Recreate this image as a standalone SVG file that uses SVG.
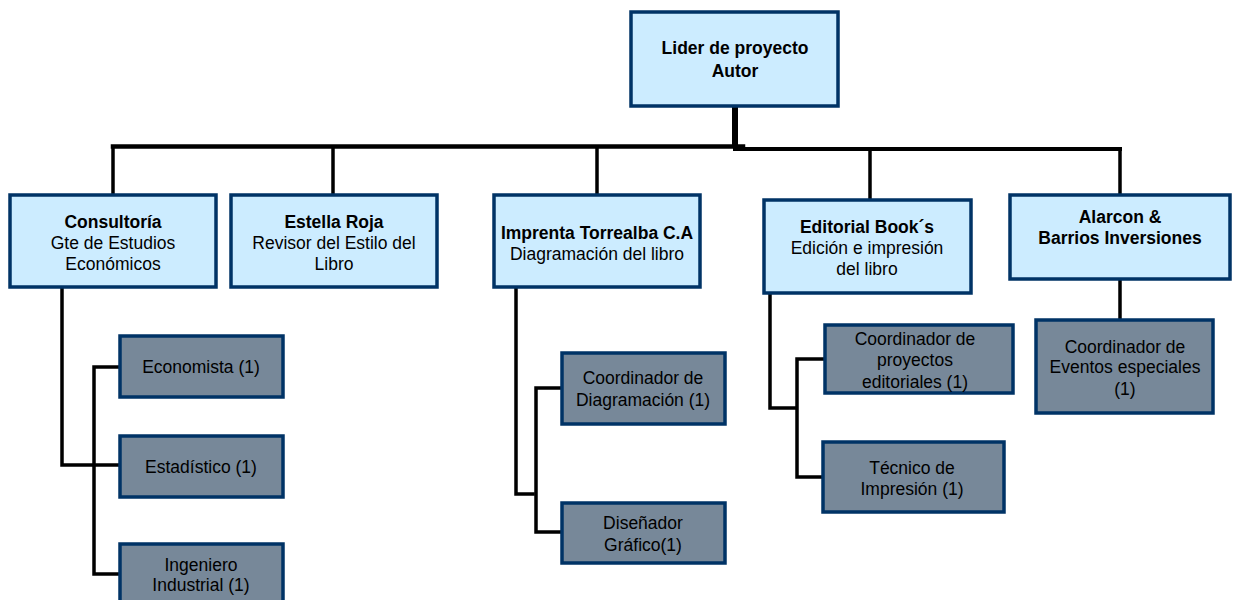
<svg xmlns="http://www.w3.org/2000/svg" width="1235" height="600" viewBox="0 0 1235 600">
<style>
.lb{fill:#CCECFF;stroke:#003366;stroke-width:3.5}
.gr{fill:#778899;stroke:#003366;stroke-width:3.5}
text{font-family:"Liberation Sans",Arial,sans-serif;font-size:17.5px;fill:#000;text-anchor:middle}
.b{font-weight:bold}
.c{fill:none;stroke:#000;stroke-width:3.5;stroke-linecap:square}
</style>
<rect width="1235" height="600" fill="#fff"/>
<g id="connectors">
<line class="c" x1="735" y1="107" x2="735" y2="147" style="stroke-width:6;stroke-linecap:butt"/>
<line class="c" x1="113" y1="146.5" x2="743" y2="146.5" style="stroke-width:4.5"/>
<line class="c" x1="735" y1="149" x2="1120" y2="149" style="stroke-width:4"/>
<line class="c" x1="113" y1="147" x2="113" y2="193"/>
<line class="c" x1="333" y1="147" x2="333" y2="193"/>
<line class="c" x1="597" y1="147" x2="597" y2="193"/>
<line class="c" x1="870" y1="149" x2="870" y2="198"/>
<line class="c" x1="1120" y1="149" x2="1120" y2="193"/>
<polyline class="c" points="62,289 62,465 120,465"/>
<polyline class="c" points="120,367 94,367 94,574 120,574"/>
<polyline class="c" points="516,289 516,494 533,494"/>
<polyline class="c" points="562,388 536,388 536,532 562,532"/>
<polyline class="c" points="770,295 770,408 795,408"/>
<polyline class="c" points="825,359 797,359 797,477 823,477"/>
<line class="c" x1="1120" y1="281" x2="1120" y2="318"/>
</g>
<g id="lider">
<rect class="lb" x="631" y="12" width="207" height="94"/>
<text class="b" x="735" y="54">Lider de proyecto</text>
<text class="b" x="735" y="77">Autor</text>
</g>
<g id="consultoria">
<rect class="lb" x="10" y="195" width="206" height="92"/>
<text class="b" x="113" y="228">Consultoría</text>
<text x="113" y="249">Gte de Estudios</text>
<text x="113" y="270">Económicos</text>
</g>
<g id="estella">
<rect class="lb" x="231" y="195" width="206" height="92"/>
<text class="b" x="334" y="228">Estella Roja</text>
<text x="334" y="249">Revisor del Estilo del</text>
<text x="334" y="270">Libro</text>
</g>
<g id="imprenta">
<rect class="lb" x="494" y="195" width="206" height="92"/>
<text class="b" x="597" y="239">Imprenta Torrealba C.A</text>
<text x="597" y="260">Diagramación del libro</text>
</g>
<g id="editorial">
<rect class="lb" x="764" y="200" width="207" height="93"/>
<text class="b" x="867" y="233">Editorial Book´s</text>
<text x="867" y="254">Edición e impresión</text>
<text x="867" y="275">del libro</text>
</g>
<g id="alarcon">
<rect class="lb" x="1010" y="195" width="220" height="84"/>
<text class="b" x="1120" y="223">Alarcon &amp;</text>
<text class="b" x="1120" y="244">Barrios Inversiones</text>
</g>
<g id="economista">
<rect class="gr" x="120" y="336" width="163" height="61"/>
<text x="201" y="373">Economista (1)</text>
</g>
<g id="estadistico">
<rect class="gr" x="120" y="436" width="163" height="61"/>
<text x="201" y="473">Estadístico (1)</text>
</g>
<g id="ingeniero">
<rect class="gr" x="120" y="544" width="163" height="70"/>
<text x="201" y="571">Ingeniero</text>
<text x="201" y="591">Industrial (1)</text>
</g>
<g id="coord-diagramacion">
<rect class="gr" x="562" y="353" width="163" height="71"/>
<text x="643" y="384">Coordinador de</text>
<text x="643" y="406">Diagramación (1)</text>
</g>
<g id="disenador">
<rect class="gr" x="562" y="503" width="163" height="60"/>
<text x="643" y="529">Diseñador</text>
<text x="643" y="551">Gráfico(1)</text>
</g>
<g id="coord-proyectos">
<rect class="gr" x="825" y="325" width="188" height="68"/>
<text x="915" y="345">Coordinador de</text>
<text x="915" y="366">proyectos</text>
<text x="915" y="388">editoriales (1)</text>
</g>
<g id="tecnico">
<rect class="gr" x="823" y="442" width="181" height="70"/>
<text x="912" y="474">Técnico de</text>
<text x="912" y="495">Impresión (1)</text>
</g>
<g id="coord-eventos">
<rect class="gr" x="1036" y="320" width="177" height="93"/>
<text x="1125" y="353">Coordinador de</text>
<text x="1125" y="373">Eventos especiales</text>
<text x="1125" y="395">(1)</text>
</g>
</svg>
